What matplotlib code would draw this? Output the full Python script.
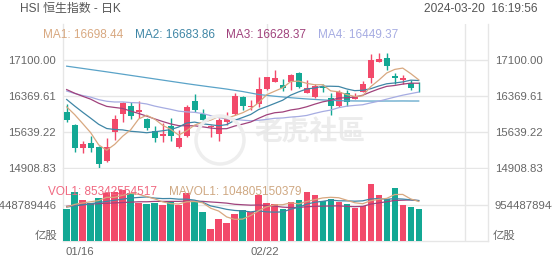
import numpy as np
import matplotlib
matplotlib.use('Agg')
import matplotlib.pyplot as plt
from matplotlib.patches import Ellipse

plt.rcParams['font.family'] = ['Liberation Sans', 'Noto Sans CJK SC']

# HSI daily K, 2024-01-16 .. 2024-03-20
opens = [16039, 15781, 15320, 15410, 15341, 15051, 15633, 15998, 16173, 16045,
         15903, 15659, 15558, 15761, 15341, 15558, 16268, 16005, 15741, 15592,
         15836, 15998, 16356, 16150, 16201, 16512, 16660, 16593, 16660, 16830,
         16437, 16356, 16560, 16336, 16173, 16424, 16309, 16457, 16729, 17066,
         17134, 16781, 16694, 16627, 16560]
highs = [16201, 15800, 15457, 15558, 15361, 15524, 15984, 16254, 16254, 16268,
         15920, 15754, 15815, 15917, 15680, 16187, 16404, 16106, 15780, 15917,
         16052, 16424, 16370, 16288, 16761, 16760, 16897, 16708, 16809, 16863,
         16694, 16607, 16607, 16424, 16491, 16491, 16437, 16674, 17215, 17236,
         17236, 16830, 16796, 16694, 16660]
lows = [15848, 15240, 15207, 15227, 14888, 15024, 15477, 15842, 15903, 15917,
        15680, 15430, 15443, 15457, 15320, 15545, 16052, 15848, 15545, 15457,
        15781, 15984, 16086, 16086, 16153, 16491, 16650, 16471, 16491, 16526,
        16424, 16336, 16445, 15984, 16153, 16173, 16300, 16445, 16627, 17050,
        16897, 16607, 16607, 16491, 16457]
closes = [15883, 15314, 15391, 15320, 14984, 15341, 15903, 16221, 15970, 16086,
          15714, 15511, 15592, 15558, 15511, 16153, 16086, 15883, 15767, 15883,
          15950, 16377, 16173, 16170, 16512, 16749, 16729, 16526, 16796, 16559,
          16526, 16580, 16532, 16173, 16457, 16254, 16377, 16607, 17100, 17114,
          16984, 16741, 16741, 16538, 16543]

ma1 = [16149, 15992, 15810, 15625, 15378, 15270, 15388, 15554, 15684, 15904,
       15979, 15900, 15775, 15692, 15577, 15665, 15780, 15838, 15880, 15954,
       15914, 15972, 16030, 16111, 16236, 16396, 16467, 16537, 16662, 16672,
       16627, 16597, 16599, 16474, 16454, 16399, 16359, 16374, 16559, 16690,
       16836, 16909, 16936, 16824, 16698.44]
ma2 = [16299, 16166, 16040, 15919, 15795, 15710, 15690, 15682, 15654, 15641,
       15624, 15644, 15664, 15688, 15741, 15822, 15840, 15806, 15786, 15766,
       15789, 15876, 15934, 15995, 16095, 16155, 16219, 16284, 16387, 16454,
       16512, 16532, 16568, 16568, 16563, 16513, 16478, 16486, 16517, 16572,
       16618, 16634, 16655, 16691, 16683.86]
ma3 = [16500, 16426, 16364, 16305, 16223, 16159, 16137, 16117, 16063, 16015,
       15962, 15905, 15852, 15803, 15768, 15766, 15765, 15744, 15720, 15704,
       15707, 15760, 15799, 15842, 15918, 15988, 16030, 16045, 16086, 16110,
       16151, 16204, 16251, 16282, 16329, 16334, 16349, 16385, 16452, 16513,
       16565, 16583, 16611, 16630, 16628.37]
ma4 = [16471, 16421, 16379, 16346, 16296, 16263, 16248, 16249, 16236, 16231,
       16208, 16165, 16131, 16099, 16062, 16047, 16038, 16013, 15971, 15932,
       15904, 15895, 15879, 15867, 15877, 15895, 15917, 15924, 15942, 15954,
       15975, 16017, 16055, 16084, 16133, 16163, 16179, 16192, 16230, 16264,
       16306, 16347, 16386, 16418, 16449.37]
ma5 = [16975, 16952, 16929, 16906, 16883, 16860, 16836, 16812, 16788, 16764,
       16740, 16716, 16692, 16668, 16644, 16620, 16597, 16575, 16553, 16532,
       16510, 16485, 16460, 16430, 16400, 16382, 16365, 16350, 16335, 16322,
       16310, 16300, 16290, 16282, 16275, 16271, 16269, 16268, 16267, 16267,
       16268, 16268, 16269, 16268, 16268]

# volume, in 1e9 shares
vol = [84.0, 130.7, 108.7, 99.9, 113.2, 126.4, 130.7, 135.2, 126.4, 99.9,
       97.3, 99.9, 95.4, 102.6, 95.4, 126.4, 104.2, 77.7, 31.0, 57.5,
       48.5, 71.6, 82.2, 77.7, 122.0, 99.9, 97.3, 84.0, 102.6, 108.7,
       130.7, 122.0, 106.9, 111.4, 102.6, 98.1, 88.4, 93.7, 151.1, 121.1,
       110.5, 139.6, 95.4, 91.0, 85.342554517]
mavol1 = [90, 97, 101, 104, 107.3, 115.8, 115.8, 121.1, 126.4, 123.7,
          117.9, 111.7, 103.8, 99.0, 98.1, 103.9, 104.8, 101.3, 86.9, 79.4,
          63.8, 57.3, 58.2, 67.5, 80.4, 90.7, 95.8, 96.2, 101.2, 98.5,
          104.7, 109.6, 114.2, 115.9, 114.7, 108.2, 101.5, 98.8, 106.8, 110.5,
          113.0, 123.2, 123.5, 111.5, 104.805150379]
mavol2 = [90, 93, 96, 99, 102, 105, 108, 111, 114, 115.5,
          116.8, 113.8, 112.4, 112.7, 110.9, 110.9, 108.3, 102.5, 93.0, 88.7,
          83.9, 81.0, 79.7, 77.2, 79.9, 77.2, 76.5, 77.2, 84.3, 89.5,
          97.7, 102.7, 105.2, 108.6, 106.6, 106.4, 105.5, 106.5, 111.4, 112.6,
          110.6, 112.3, 111.2, 109.2, 107.4]
mavol3 = [92, 94, 96, 98, 99, 100, 101, 102, 103, 104,
          104, 105, 105, 105, 105, 106, 106, 105, 103.5, 102.1,
          100.4, 97.4, 96.1, 95.0, 95.4, 94.1, 92.4, 89.8, 88.7, 89.1,
          90.8, 91.9, 92.4, 92.9, 93.2, 91.8, 91.0, 91.8, 97.8, 101.0,
          104.1, 107.5, 108.2, 108.9, 107.0]

price_ticks = [14908.83, 15639.22, 16369.61, 17100.00]
vol_tick = 95.448789446
date_labels = ['01/16', '02/22']
date_pos = [0, 25]

RED = '#f2496a'
GREEN = '#13a894'
C1, C2, C3, C4, C5 = '#d8a880', '#3f86a6', '#a0427c', '#a6ace2', '#5aa3c8'
GRID = '#e6e6e6'
TXT = '#666666'

W, H = 552, 265
fig = plt.figure(figsize=(W / 100, H / 100), dpi=100)
L, R = 63 / W, 488 / W
ax = fig.add_axes([L, 1 - 168 / H, R - L, 144 / H])
axv = fig.add_axes([L, 1 - 241 / H, R - L, 72 / H])

n = len(closes)
x = np.arange(n)
o, c = np.array(opens), np.array(closes)
cols = [RED if c[i] >= o[i] else GREEN for i in range(n)]
xl = (-0.46, 52.66)
xr = 49.79   # inner right border

ax.vlines(x, lows, highs, colors=cols, lw=1, zorder=3)
ax.bar(x, np.maximum(np.abs(c - o), 16), bottom=np.minimum(o, c), width=0.74,
       color=cols, zorder=3)
for ma, col in [(ma5, C5), (ma4, C4), (ma3, C3), (ma2, C2), (ma1, C1)]:
    ax.plot(x, ma, color=col, lw=0.9, zorder=4)

axv.bar(x, vol, width=0.8, color=cols, zorder=3)
for ma, col in [(mavol3, C3), (mavol2, C2), (mavol1, C1)]:
    axv.plot(x, ma, color=col, lw=0.9, zorder=4)

ax.set_ylim(14908.83, 14908.83 + 4 * 730.39)
axv.set_ylim(0, 2 * vol_tick)
for a in (ax, axv):
    a.set_xlim(*xl)
    a.set_xticks([])
    for s in ('top',):
        a.spines[s].set_visible(False)
    for s in ('left', 'right', 'bottom'):
        a.spines[s].set_color(GRID)
        a.spines[s].set_linewidth(1)
    a.axvline(xr, color=GRID, lw=1, zorder=1)
    a.axvline(date_pos[1], color=GRID, lw=1, zorder=1)
    a.tick_params(axis='y', length=0, labelsize=8.2, labelcolor=TXT,
                  labelleft=True, labelright=True, pad=5)

ax.set_yticks(price_ticks)
ax.set_yticklabels(['%.2f' % v for v in price_ticks])
for v in price_ticks[1:]:
    ax.axhline(v, color=GRID, lw=1, zorder=1)
axv.set_yticks([vol_tick])
axv.set_yticklabels(['95448789446'])
axv.axhline(vol_tick, color=GRID, lw=1, zorder=1)

# watermark
ax.text(310, 133, '老虎社區', transform=None, fontsize=20, color='#ececec',
        fontweight='bold', ha='center', va='center', zorder=0,
        family=['Noto Sans CJK TC'])
fig.patches.append(Ellipse((220 / W, 1 - 140 / H), 48 / W, 48 / H,
                           transform=fig.transFigure, fill=False,
                           ec='#eeeeee', lw=2.5, zorder=0))

def ftext(px, py, s, **kw):
    fig.text(px / W, 1 - py / H, s, va='center', **kw)

ftext(20, 9, 'HSI 恒生指数 - 日K', fontsize=8.6, color='#555555')
ftext(537, 9, '2024-03-20  16:19:56', fontsize=8.6, color='#555555', ha='right')
ftext(43, 35, 'MA1: 16698.44', fontsize=8.5, color=C1)
ftext(135, 35, 'MA2: 16683.86', fontsize=8.5, color=C2)
ftext(226, 35, 'MA3: 16628.37', fontsize=8.5, color=C3)
ftext(318, 35, 'MA4: 16449.37', fontsize=8.5, color=C4)
ftext(48, 192, 'VOL1: 85342554517', fontsize=8.5, color='#f06880', zorder=10)
ftext(169, 192, 'MAVOL1: 104805150379', fontsize=8.5, color='#cfa882', zorder=10)
ftext(57, 236, '亿股', fontsize=8.2, color=TXT, ha='right')
ftext(493, 236, '亿股', fontsize=8.2, color=TXT)
ftext(65, 252, date_labels[0], fontsize=8.2, color=TXT)
ftext(265, 252, date_labels[1], fontsize=8.2, color=TXT, ha='center')

fig.savefig('out.png', dpi=100)
